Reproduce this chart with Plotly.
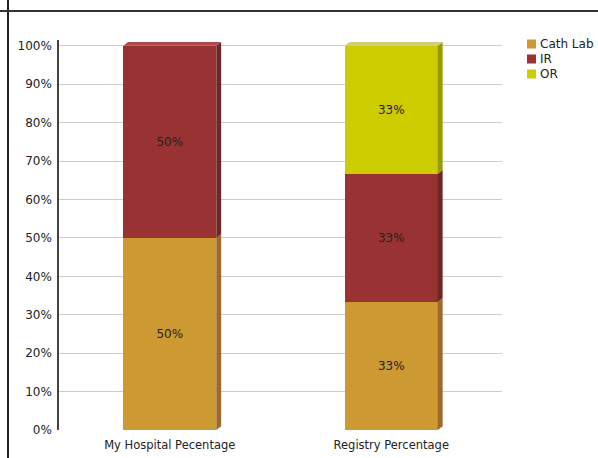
import plotly.graph_objects as go

categories = ["My Hospital Pecentage", "Registry Percentage"]
series_names = ["Cath Lab", "IR", "OR"]
cath_lab = [50, 33.33]
ir = [50, 33.33]
or_vals = [0, 33.34]
series_values = [cath_lab, ir, or_vals]
y_tick_values = [0, 10, 20, 30, 40, 50, 60, 70, 80, 90, 100]
y_tick_labels = ["0%", "10%", "20%", "30%", "40%", "50%", "60%", "70%", "80%", "90%", "100%"]

front_colors = ["#CC9933", "#993333", "#CCCC00"]
side_colors = ["#9E6A2B", "#6E2626", "#9A9A00"]
top_colors = ["#D9AE5C", "#B34848", "#CFCF7A"]

FONT = "DejaVu Sans"
W, H = 598, 458
L, R = 59, 96
T, B = 40, 28
PW = W - L - R
PH = H - T - B
YMAX = 101.5


def px_to_paper_x(px):
    return (px - L) / PW


def px_to_paper_y(py):
    return (H - B - py) / PH


x_pos = list(range(len(categories)))
bar_w = 0.42
dx = 0.022
dy = 1.0

fig = go.Figure()
for name, vals, col in zip(series_names, series_values, front_colors):
    fig.add_trace(go.Bar(
        x=x_pos, y=vals, name=name, width=bar_w,
        marker=dict(color=col, line=dict(width=0)),
        text=[f"{round(v)}%" if v > 0 else "" for v in vals],
        textposition="inside", insidetextanchor="middle",
        textfont=dict(color="#222222", size=12, family=FONT),
        textangle=0, showlegend=False,
    ))

shapes = []
for i in x_pos:
    base = 0
    top_idx = max(k for k in range(len(series_values)) if series_values[k][i] > 0)
    for k, vals in enumerate(series_values):
        v = vals[i]
        if v <= 0:
            continue
        t = base + v
        xr = i + bar_w / 2
        shapes.append(dict(type="path", xref="x", yref="y",
                           path=f"M {xr} {base} L {xr+dx} {base+dy} L {xr+dx} {t+dy} L {xr} {t} Z",
                           fillcolor=side_colors[k], line=dict(width=0), layer="above"))
        if k == top_idx:
            xl = i - bar_w / 2
            shapes.append(dict(type="path", xref="x", yref="y",
                               path=f"M {xl} {t} L {xl+dx} {t+dy} L {xr+dx} {t+dy} L {xr} {t} Z",
                               fillcolor=top_colors[k], line=dict(width=0), layer="above"))
        base = t

# frame lines
shapes.append(dict(type="line", xref="paper", yref="paper",
                   x0=px_to_paper_x(8), x1=px_to_paper_x(8), y0=px_to_paper_y(470), y1=px_to_paper_y(-10),
                   line=dict(color="#222222", width=2)))
shapes.append(dict(type="line", xref="paper", yref="paper",
                   x0=px_to_paper_x(0), x1=px_to_paper_x(610), y0=px_to_paper_y(11), y1=px_to_paper_y(11),
                   line=dict(color="#333333", width=2)))

# custom legend
annotations = []
legend_rows = [44, 59, 74]
for name, col, cy in zip(series_names, front_colors, legend_rows):
    shapes.append(dict(type="rect", xref="paper", yref="paper",
                       x0=px_to_paper_x(527), x1=px_to_paper_x(536),
                       y0=px_to_paper_y(cy + 4.5), y1=px_to_paper_y(cy - 4.5),
                       fillcolor=col, line=dict(width=0)))
    annotations.append(dict(xref="paper", yref="paper", x=px_to_paper_x(538), y=px_to_paper_y(cy),
                            xanchor="left", yanchor="middle", text=name, showarrow=False,
                            font=dict(size=12, family=FONT, color="#222222")))

fig.update_layout(
    barmode="stack",
    width=W, height=H,
    margin=dict(l=L, r=R, t=T, b=B),
    paper_bgcolor="white", plot_bgcolor="white",
    font=dict(family=FONT, size=12, color="#222222"),
    shapes=shapes, annotations=annotations,
    showlegend=False,
    xaxis=dict(range=[-0.5, 1.5], tickvals=x_pos, ticktext=categories,
               showgrid=False, zeroline=False, showline=False, ticks="",
               ticklabelstandoff=6, automargin=False, tickfont=dict(size=11.5)),
    yaxis=dict(range=[0, YMAX], tickvals=y_tick_values, ticktext=y_tick_labels, showgrid=True,
               gridcolor="#CCCCCC", gridwidth=1, zeroline=False,
               showline=True, linecolor="#444444", linewidth=1.5, ticks="",
               ticklabelstandoff=3, automargin=False, tickfont=dict(size=12)),
)

fig.write_html("out.html")
